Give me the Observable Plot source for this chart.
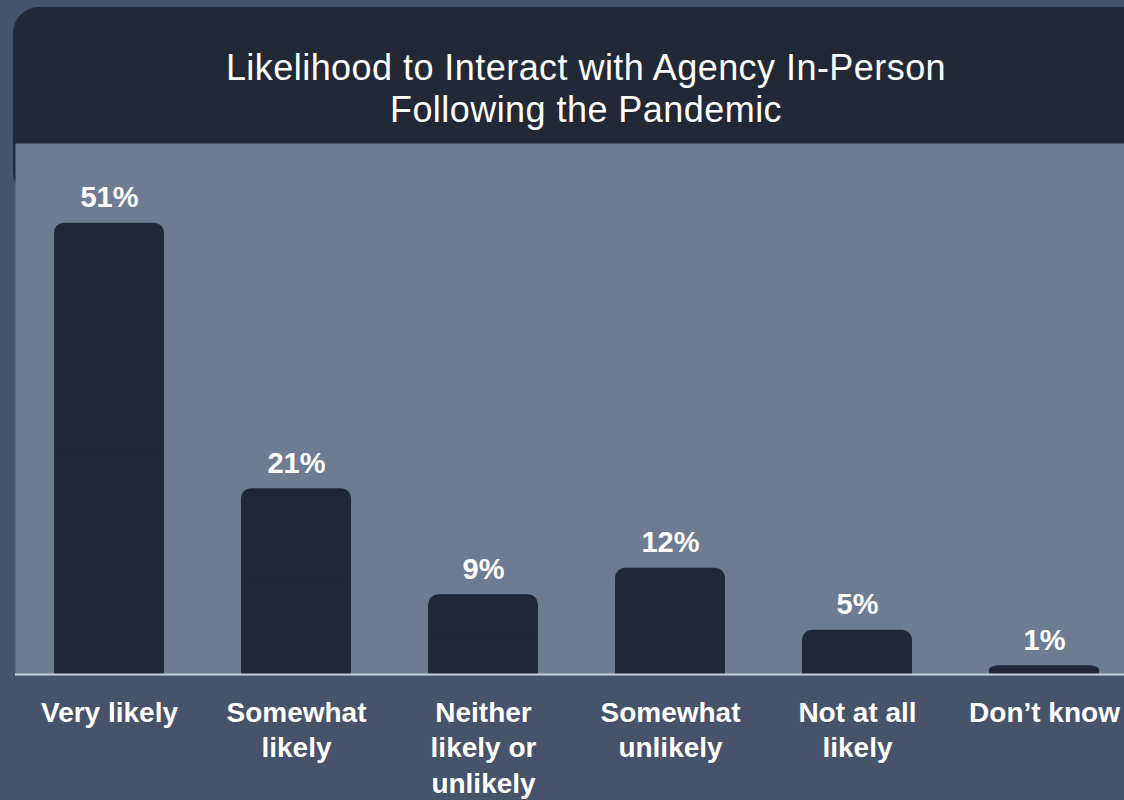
<!DOCTYPE html>
<html>
<head>
<meta charset="utf-8">
<script src="https://cdn.jsdelivr.net/npm/d3@7"></script>
<script src="https://cdn.jsdelivr.net/npm/@observablehq/plot@0.6"></script>
<style>
  html, body { margin: 0; padding: 0; }
  body { width: 1124px; height: 800px; background: #47526b; position: relative; overflow: hidden; font-family: "Liberation Sans", Arial, sans-serif; }
  #card { position: absolute; left: 13px; top: 7px; width: 1146px; height: 190px; background: #232836; border-radius: 26px; }
  #title { position: absolute; left: 13px; top: 7px; width: 1146px; height: 136px; color: #fff; font-size: 36px; letter-spacing: 0.45px; line-height: 42px; text-align: center; box-sizing: border-box; padding-top: 40px; }
  #chart { position: absolute; left: 0; top: 143px; }
</style>
</head>
<body>
<div id="card"></div>
<div id="title">Likelihood to Interact with Agency In-Person<br>Following the Pandemic</div>
<div id="chart"></div>
<script>
const categories = ["Very likely", "Somewhat likely", "Neither likely or unlikely", "Somewhat unlikely", "Not at all likely", "Don’t know"];
const values = [51, 21, 9, 12, 5, 1];
const tickLabels = ["Very likely", "Somewhat\nlikely", "Neither\nlikely or\nunlikely", "Somewhat\nunlikely", "Not at all\nlikely", "Don’t know"];

const data = categories.map((c, i) => ({category: c, value: values[i], label: values[i] + "%"}));

const chart = Plot.plot({
  width: 1124,
  height: 657,
  marginLeft: 15,
  marginRight: 0,
  marginTop: 0,
  marginBottom: 126,
  style: {background: "transparent", color: "#fff", fontFamily: "'Liberation Sans', Arial, sans-serif"},
  x: {domain: categories, range: [15.5, 1137.5], paddingInner: 0.412, paddingOuter: 0.206, label: null},
  y: {domain: [0, 60], axis: null},
  marks: [
    Plot.frame({fill: "#6d7c92", stroke: null}),
    Plot.barY(data, {x: "category", y: "value", fill: "#212736", rx: 10}),
    Plot.barY(data, {x: "category", y1: 0, y2: d => d.value / 2, fill: "#212736"}),
    Plot.ruleY([0], {stroke: "#c9d0da", strokeWidth: 2}),
    Plot.text(data, {x: "category", y: "value", text: "label", fill: "#fff", fontSize: 29, fontWeight: "bold", lineAnchor: "bottom", dy: -16}),
    Plot.axisX({tickSize: 0, tickPadding: 22, fontSize: 28, fontWeight: "bold", fill: "#fff", lineHeight: 1.27, tickFormat: d => tickLabels[categories.indexOf(d)]})
  ]
});
document.getElementById("chart").appendChild(chart);
</script>
</body>
</html>
